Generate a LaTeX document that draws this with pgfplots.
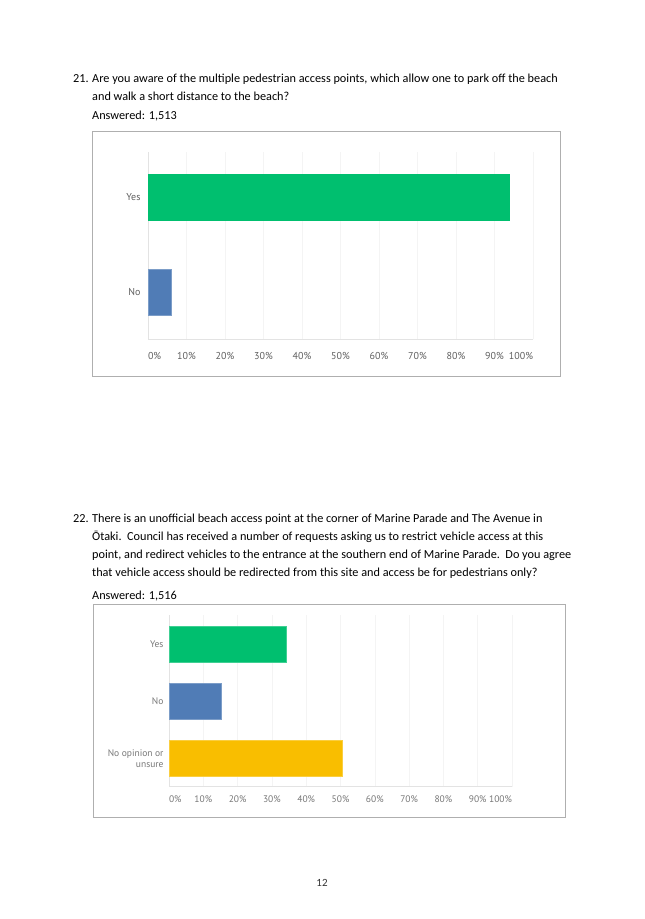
\documentclass[border=0pt]{standalone}
\usepackage{pgfplots}
\pgfplotsset{compat=1.18}
\usepackage{fontspec}
\setmainfont{Carlito}
\newfontfamily\chartfont{PT Sans}
\definecolor{smgreen}{RGB}{0,191,111}
\definecolor{smblue}{RGB}{80,124,182}
\definecolor{smyellow}{RGB}{249,190,0}
\definecolor{ticktext}{RGB}{95,95,95}
\definecolor{boxgray}{RGB}{175,175,175}
\begin{document}
\begin{tikzpicture}
\path[fill=white] (0pt,0pt) rectangle (645pt,-919pt);
\tikzset{qtext/.style={anchor=base west, inner sep=0pt, font=\fontsize{12.25}{14}\selectfont}}
% Question 21
\node[qtext] at (73pt,-82.3pt) {21.};
\node[qtext] at (92pt,-82.3pt) {Are you aware of the multiple pedestrian access points, which allow one to park off the beach};
\node[qtext] at (92pt,-100.7pt) {and walk a short distance to the beach?};
\node[qtext] at (92pt,-119pt) {Answered: 1,513};
\draw[boxgray, line width=0.9pt] (92.7pt,-131pt) rectangle (560pt,-376pt);
% Question 22
\node[qtext] at (73pt,-522.3pt) {22.};
\node[qtext] at (92pt,-522.3pt) {There is an unofficial beach access point at the corner of Marine Parade and The Avenue in};
\node[qtext] at (92pt,-540.4pt) {Ōtaki.\ \ Council has received a number of requests asking us to restrict vehicle access at this};
\node[qtext] at (92pt,-558.2pt) {point, and redirect vehicles to the entrance at the southern end of Marine Parade.\ \ Do you agree};
\node[qtext] at (92pt,-576pt) {that vehicle access should be redirected from this site and access be for pedestrians only?};
\node[qtext] at (92pt,-599pt) {Answered: 1,516};
\draw[boxgray, line width=0.9pt] (93pt,-604pt) rectangle (565pt,-817pt);
% page number
\node[anchor=base, inner sep=0pt, font=\fontsize{11}{13}\selectfont, text=black!80] at (322pt,-886pt) {12};

\begin{axis}[
  at={(148pt,-339pt)}, anchor=south west, scale only axis,
  width=385pt, height=187pt,
  xmin=0, xmax=100, ymin=-0.497, ymax=1.481,
  axis x line*=bottom, axis y line*=left,
  axis line style={draw=gray!22, line width=0.8pt},
  xmajorgrids, major grid style={draw=gray!9, line width=0.6pt},
  major tick length=0pt,
  xtick={0,10,20,30,40,50,60,70,80,90,100},
  xticklabels={\makebox[0pt][l]{0\%},10\%,20\%,30\%,40\%,50\%,60\%,70\%,80\%,90\%,\makebox[0pt][r]{100\%}},
  ytick={0,1}, yticklabels={No,Yes},
  tick label style={font=\chartfont\fontsize{10}{12}\selectfont, text=ticktext},
  xticklabel style={yshift=-10pt},
  yticklabel style={xshift=-4pt},
  clip=false,
]
\addplot[xbar, bar shift=0pt, bar width=46.5pt, fill=smgreen, draw=none] coordinates {(94,1)};
\addplot[xbar, bar shift=0pt, bar width=46.5pt, fill=smblue, draw=smblue!75!white, line width=0.5pt] coordinates {(6,0)};
\end{axis}

\begin{axis}[
  at={(169pt,-786.7pt)}, anchor=south west, scale only axis,
  width=343pt, height=171.7pt,
  xmin=0, xmax=100, ymin=-0.488, ymax=2.503,
  axis x line*=bottom, axis y line*=left,
  axis line style={draw=gray!22, line width=0.8pt},
  xmajorgrids, major grid style={draw=gray!9, line width=0.6pt},
  major tick length=0pt,
  xtick={0,10,20,30,40,50,60,70,80,90,100},
  xticklabels={\makebox[0pt][l]{0\%},10\%,20\%,30\%,40\%,50\%,60\%,70\%,80\%,90\%,\makebox[0pt][r]{100\%}},
  ytick={0,1,2}, yticklabels={{No opinion or\\unsure},No,Yes},
  tick label style={font=\chartfont\fontsize{9.5}{10.5}\selectfont, text=ticktext!85!white},
  xticklabel style={yshift=-5pt},
  yticklabel style={xshift=-2pt, align=right},
  clip=false,
]
\addplot[xbar, bar shift=0pt, bar width=36pt, fill=smgreen, draw=smgreen!75!white, line width=0.5pt] coordinates {(34.3,2)};
\addplot[xbar, bar shift=0pt, bar width=36pt, fill=smblue, draw=smblue!75!white, line width=0.5pt] coordinates {(15.2,1)};
\addplot[xbar, bar shift=0pt, bar width=36pt, fill=smyellow, draw=smyellow!75!white, line width=0.5pt] coordinates {(50.5,0)};
\end{axis}
\end{tikzpicture}
\end{document}
